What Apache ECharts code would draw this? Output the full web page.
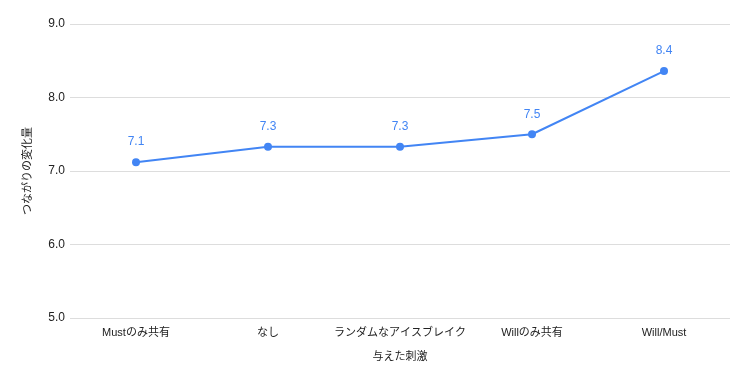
<!DOCTYPE html>
<html><head><meta charset="utf-8">
<script src="https://cdn.jsdelivr.net/npm/echarts@6/dist/echarts.min.js"></script>
<style>html,body{margin:0;padding:0;background:#fff}#c{width:750px;height:381px}</style>
</head><body><div id="c"></div>
<script>
const categories = ['Mustのみ共有', 'なし', 'ランダムなアイスブレイク', 'Willのみ共有', 'Will/Must'];
const values = [7.12, 7.33, 7.33, 7.50, 8.36];
const yTicks = { min: 5, max: 9, interval: 1 };
const xName = '与えた刺激';
const yName = 'つながりの変化量';

const font = '"Liberation Sans", "Noto Sans CJK JP", sans-serif';
const chart = echarts.init(document.getElementById('c'));
chart.setOption({
  animation: false,
  textStyle: { fontFamily: font },
  grid: { left: 70, right: 20, top: 24, bottom: 63 },
  xAxis: {
    type: 'category', data: categories, boundaryGap: true,
    name: xName, nameLocation: 'middle', nameGap: 33,
    nameTextStyle: { color: '#222', fontSize: 11, fontFamily: font },
    axisLine: { show: false }, axisTick: { show: false },
    axisLabel: { color: '#222', fontSize: 11, margin: 9, fontFamily: font, interval: 0 }
  },
  yAxis: {
    type: 'value', min: yTicks.min, max: yTicks.max, interval: yTicks.interval,
    name: yName, nameLocation: 'middle', nameGap: 37,
    nameTextStyle: { color: '#222', fontSize: 11, fontFamily: font },
    axisLine: { show: false }, axisTick: { show: false },
    axisLabel: { color: '#222', fontSize: 12, margin: 5, fontFamily: font, formatter: v => v.toFixed(1) },
    splitLine: { lineStyle: { color: '#dddddd', width: 1 } }
  },
  series: [{
    type: 'line', data: values,
    symbol: 'circle', symbolSize: 8,
    itemStyle: { color: '#4285f4' },
    lineStyle: { color: '#4285f4', width: 2 },
    label: {
      show: true, position: 'top', distance: 10, color: '#4285f4', fontSize: 12,
      fontFamily: font, formatter: p => p.value.toFixed(1)
    }
  }]
});
</script></body></html>
